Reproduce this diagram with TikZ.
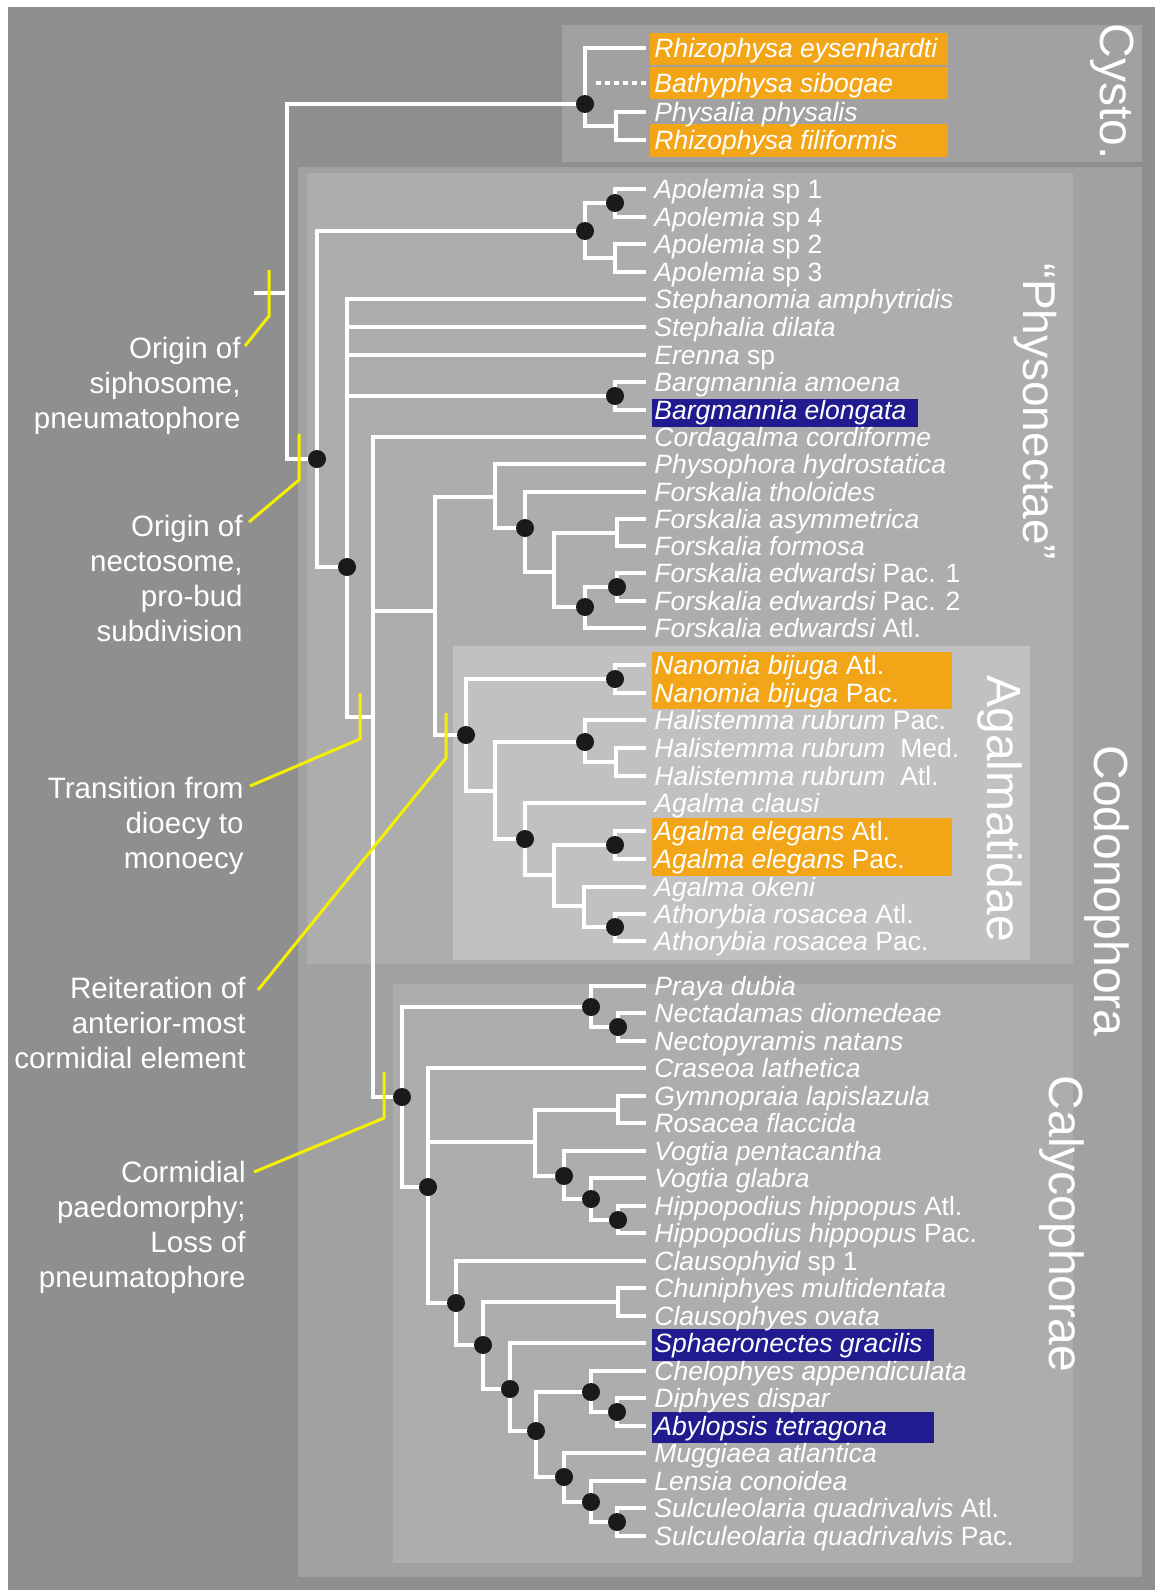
\documentclass[tikz,border=0pt]{standalone}
\usepackage{fontspec}
\setmainfont{Liberation Sans}
\definecolor{bgout}{HTML}{8F8F8F}
\definecolor{boxA}{HTML}{A1A1A1}
\definecolor{boxB}{HTML}{ADADAD}
\definecolor{boxC}{HTML}{C1C1C1}
\definecolor{hlorange}{HTML}{F2A516}
\definecolor{hlblue}{HTML}{201C8F}
\definecolor{dotc}{HTML}{1A1A1A}
\definecolor{yel}{HTML}{F5F000}
\tikzset{
  br/.style={draw=white, line width=2pt, line join=miter},
  brdot/.style={draw=white, line width=2pt, dash pattern=on 2.5pt off 2pt},
  leaf/.style={anchor=west, inner xsep=4pt, inner ysep=0pt, text height=13pt, text depth=3.5pt, text=white, font=\fontsize{13.25pt}{15pt}\selectfont\itshape},
  dotn/.style={circle, fill=dotc, inner sep=0pt, minimum size=9pt},
  yline/.style={draw=yel, line width=1.5pt, line join=miter},
  ann/.style={anchor=base east, inner sep=0pt, text=white, font=\fontsize{14.75pt}{17.5pt}\selectfont},
  grp/.style={rotate=-90, text=white, inner sep=0pt, font=\fontsize{24pt}{28pt}\selectfont}
}
\begin{document}
\begin{tikzpicture}[x=0.5pt,y=-0.5pt]
\useasboundingbox (0,0) rectangle (1155,1590);
% backgrounds
\fill[white] (0,0) rectangle (1155,1590);
\fill[bgout] (8,7) rectangle (1155,1590);
\fill[boxA] (562,25) rectangle (1142,162);
\fill[boxA] (298,167) rectangle (1142,1577);
\fill[boxB] (307,173) rectangle (1073,964);
\fill[boxC] (453,646) rectangle (1030,960);
\fill[boxB] (393,984) rectangle (1073,1563);
% highlights
\fill[hlorange] (650,33) rectangle (948,65);
\fill[hlorange] (650,67) rectangle (948,99);
\fill[hlorange] (650,124) rectangle (948,157);
\fill[hlblue] (652,399) rectangle (918,427);
\fill[hlorange] (652,652) rectangle (952,709);
\fill[hlorange] (652,818) rectangle (952,876);
\fill[hlblue] (652,1329) rectangle (934,1361);
\fill[hlblue] (652,1412) rectangle (934,1443);

% leaves
\node[leaf] (L01) at (646,48) {Rhizophysa eysenhardti};
\node[leaf] (L02) at (646,83) {Bathyphysa sibogae};
\node[leaf] (L03) at (646,112) {Physalia physalis};
\node[leaf] (L04) at (646,140) {Rhizophysa filiformis};
\node[leaf] (a1) at (646,189) {Apolemia {\upshape sp 1}};
\node[leaf] (a2) at (646,217) {Apolemia {\upshape sp 4}};
\node[leaf] (a3) at (646,244) {Apolemia {\upshape sp 2}};
\node[leaf] (a4) at (646,272) {Apolemia {\upshape sp 3}};
\node[leaf] (a5) at (646,299) {Stephanomia amphytridis};
\node[leaf] (a6) at (646,327) {Stephalia dilata};
\node[leaf] (a7) at (646,355) {Erenna {\upshape sp}};
\node[leaf] (a8) at (646,382) {Bargmannia amoena};
\node[leaf] (a9) at (646,410) {Bargmannia elongata};
\node[leaf] (a10) at (646,437) {Cordagalma cordiforme};
\node[leaf] (a11) at (646,464) {Physophora hydrostatica};
\node[leaf] (a12) at (646,492) {Forskalia tholoides};
\node[leaf] (a13) at (646,519) {Forskalia asymmetrica};
\node[leaf] (a14) at (646,546) {Forskalia formosa};
\node[leaf] (a15) at (646,573) {Forskalia edwardsi {\upshape Pac. 1}};
\node[leaf] (a16) at (646,601) {Forskalia edwardsi {\upshape Pac. 2}};
\node[leaf] (a17) at (646,628) {Forskalia edwardsi {\upshape Atl.}};
\node[leaf] (a18) at (646,665) {Nanomia bijuga {\upshape Atl.}};
\node[leaf] (a19) at (646,693) {Nanomia bijuga {\upshape Pac.}};
\node[leaf] (a20) at (646,720) {Halistemma rubrum {\upshape Pac.}};
\node[leaf] (a21) at (646,748) {Halistemma rubrum \ {\upshape Med.}};
\node[leaf] (a22) at (646,776) {Halistemma rubrum \ {\upshape Atl.}};
\node[leaf] (a23) at (646,803) {Agalma clausi};
\node[leaf] (a24) at (646,831) {Agalma elegans {\upshape Atl.}};
\node[leaf] (a25) at (646,859) {Agalma elegans {\upshape Pac.}};
\node[leaf] (a26) at (646,887) {Agalma okeni};
\node[leaf] (a27) at (646,914) {Athorybia rosacea {\upshape Atl.}};
\node[leaf] (a28) at (646,941) {Athorybia rosacea {\upshape Pac.}};
\node[leaf] (a29) at (646,986) {Praya dubia};
\node[leaf] (a30) at (646,1013) {Nectadamas diomedeae};
\node[leaf] (a31) at (646,1041) {Nectopyramis natans};
\node[leaf] (a32) at (646,1068) {Craseoa lathetica};
\node[leaf] (a33) at (646,1096) {Gymnopraia lapislazula};
\node[leaf] (a34) at (646,1123) {Rosacea flaccida};
\node[leaf] (a35) at (646,1151) {Vogtia pentacantha};
\node[leaf] (a36) at (646,1178) {Vogtia glabra};
\node[leaf] (a37) at (646,1206) {Hippopodius hippopus {\upshape Atl.}};
\node[leaf] (a38) at (646,1233) {Hippopodius hippopus {\upshape Pac.}};
\node[leaf] (a39) at (646,1261) {Clausophyid {\upshape sp 1}};
\node[leaf] (a40) at (646,1288) {Chuniphyes multidentata};
\node[leaf] (a41) at (646,1316) {Clausophyes ovata};
\node[leaf] (a42) at (646,1343) {Sphaeronectes gracilis};
\node[leaf] (a43) at (646,1371) {Chelophyes appendiculata};
\node[leaf] (a44) at (646,1398) {Diphyes dispar};
\node[leaf] (a45) at (646,1426) {Abylopsis tetragona};
\node[leaf] (a46) at (646,1453) {Muggiaea atlantica};
\node[leaf] (a47) at (646,1481) {Lensia conoidea};
\node[leaf] (a48) at (646,1508) {Sulculeolaria quadrivalvis {\upshape Atl.}};
\node[leaf] (a49) at (646,1536) {Sulculeolaria quadrivalvis {\upshape Pac.}};

% internal nodes
\coordinate (R) at (287,293);
\coordinate (tick) at (254,293);
\coordinate (c0) at (585,104);
\coordinate (c1) at (616,126);
\coordinate (bd) at (596,83);
\coordinate (r0) at (317,459);
\coordinate (A0) at (585,231);
\coordinate (A1) at (615,203);
\coordinate (A2) at (615,258);
\coordinate (P1) at (347,567);
\coordinate (B0) at (615,396);
\coordinate (P2) at (373,717);
\coordinate (F0) at (435,611);
\coordinate (F1) at (495,497);
\coordinate (F2) at (525,528);
\coordinate (F3) at (554,572);
\coordinate (F4) at (617,533);
\coordinate (F5) at (585,607);
\coordinate (F6) at (617,587);
\coordinate (G0) at (466,735);
\coordinate (Ga) at (615,679);
\coordinate (G1) at (495,791);
\coordinate (G2) at (585,742);
\coordinate (G3) at (616,762);
\coordinate (G4) at (525,839);
\coordinate (G5) at (554,875);
\coordinate (G6) at (615,845);
\coordinate (G7) at (584,906);
\coordinate (G8) at (615,927);
\coordinate (K0) at (402,1097);
\coordinate (K1) at (591,1007);
\coordinate (K2) at (618,1027);
\coordinate (K3) at (428,1187);
\coordinate (K4) at (535,1142);
\coordinate (K5) at (618,1110);
\coordinate (K6) at (564,1176);
\coordinate (K7) at (591,1199);
\coordinate (K8) at (618,1220);
\coordinate (K9) at (456,1303);
\coordinate (K10) at (483,1345);
\coordinate (K11) at (618,1302);
\coordinate (K12) at (510,1389);
\coordinate (K13) at (536,1431);
\coordinate (K14) at (591,1392);
\coordinate (K15) at (617,1412);
\coordinate (K16) at (564,1477);
\coordinate (K17) at (591,1502);
\coordinate (K18) at (617,1522);

% connectors
\draw[br] (R) -- (tick);
\draw[br] (R) |- (c0);
\draw[br] (R) |- (r0);
\draw[br] (c0) |- (L01);
\draw[br] (c0) |- (c1);
\draw[br] (c1) |- (L03);
\draw[br] (c1) |- (L04);
\draw[brdot] (bd) -- (L02);
\draw[br] (r0) |- (A0);
\draw[br] (r0) |- (P1);
\draw[br] (A0) |- (A1);
\draw[br] (A0) |- (A2);
\draw[br] (A1) |- (a1);
\draw[br] (A1) |- (a2);
\draw[br] (A2) |- (a3);
\draw[br] (A2) |- (a4);
\draw[br] (P1) |- (a5);
\draw[br] (P1) |- (a6);
\draw[br] (P1) |- (a7);
\draw[br] (P1) |- (B0);
\draw[br] (P1) |- (P2);
\draw[br] (B0) |- (a8);
\draw[br] (B0) |- (a9);
\draw[br] (P2) |- (a10);
\draw[br] (P2) |- (F0);
\draw[br] (P2) |- (K0);
\draw[br] (F0) |- (F1);
\draw[br] (F0) |- (G0);
\draw[br] (F1) |- (a11);
\draw[br] (F1) |- (F2);
\draw[br] (F2) |- (a12);
\draw[br] (F2) |- (F3);
\draw[br] (F3) |- (F4);
\draw[br] (F3) |- (F5);
\draw[br] (F4) |- (a13);
\draw[br] (F4) |- (a14);
\draw[br] (F5) |- (F6);
\draw[br] (F5) |- (a17);
\draw[br] (F6) |- (a15);
\draw[br] (F6) |- (a16);
\draw[br] (G0) |- (Ga);
\draw[br] (G0) |- (G1);
\draw[br] (Ga) |- (a18);
\draw[br] (Ga) |- (a19);
\draw[br] (G1) |- (G2);
\draw[br] (G1) |- (G4);
\draw[br] (G2) |- (a20);
\draw[br] (G2) |- (G3);
\draw[br] (G3) |- (a21);
\draw[br] (G3) |- (a22);
\draw[br] (G4) |- (a23);
\draw[br] (G4) |- (G5);
\draw[br] (G5) |- (G6);
\draw[br] (G5) |- (G7);
\draw[br] (G6) |- (a24);
\draw[br] (G6) |- (a25);
\draw[br] (G7) |- (a26);
\draw[br] (G7) |- (G8);
\draw[br] (G8) |- (a27);
\draw[br] (G8) |- (a28);
\draw[br] (K0) |- (K1);
\draw[br] (K0) |- (K3);
\draw[br] (K1) |- (a29);
\draw[br] (K1) |- (K2);
\draw[br] (K2) |- (a30);
\draw[br] (K2) |- (a31);
\draw[br] (K3) |- (a32);
\draw[br] (K3) |- (K4);
\draw[br] (K3) |- (K9);
\draw[br] (K4) |- (K5);
\draw[br] (K4) |- (K6);
\draw[br] (K5) |- (a33);
\draw[br] (K5) |- (a34);
\draw[br] (K6) |- (a35);
\draw[br] (K6) |- (K7);
\draw[br] (K7) |- (a36);
\draw[br] (K7) |- (K8);
\draw[br] (K8) |- (a37);
\draw[br] (K8) |- (a38);
\draw[br] (K9) |- (a39);
\draw[br] (K9) |- (K10);
\draw[br] (K10) |- (K11);
\draw[br] (K10) |- (K12);
\draw[br] (K11) |- (a40);
\draw[br] (K11) |- (a41);
\draw[br] (K12) |- (a42);
\draw[br] (K12) |- (K13);
\draw[br] (K13) |- (K14);
\draw[br] (K13) |- (K16);
\draw[br] (K14) |- (a43);
\draw[br] (K14) |- (K15);
\draw[br] (K15) |- (a44);
\draw[br] (K15) |- (a45);
\draw[br] (K16) |- (a46);
\draw[br] (K16) |- (K17);
\draw[br] (K17) |- (a47);
\draw[br] (K17) |- (K18);
\draw[br] (K18) |- (a48);
\draw[br] (K18) |- (a49);

% dots
\foreach \n in {c0,r0,A0,A1,P1,B0,F2,F5,F6,G0,Ga,G2,G4,G6,G8,K0,K1,K2,K3,K6,K7,K8,K9,K10,K12,K13,K14,K15,K16,K17,K18}
  \node[dotn] (d\n) at (\n) {};

% group labels
\node[grp] (gCysto) at (1112,92) {Cysto.};
\node[grp, font=\fontsize{23pt}{27pt}\selectfont] (gPhys) at (1035,412) {“Physonectae”};
\node[grp] (gAgal) at (1000,809) {Agalmatidae};
\node[grp] (gCodo) at (1107,891) {Codonophora};
\node[grp] (gCaly) at (1062,1224) {Calycophorae};

% annotations
\node[ann] (n1a) at (241,358) {Origin of};
\node[ann] (n1b) at (241,393) {siphosome,};
\node[ann] (n1c) at (241,428) {pneumatophore};
\node[ann] (n2a) at (243,536) {Origin of};
\node[ann] (n2b) at (243,571) {nectosome,};
\node[ann] (n2c) at (243,606) {pro-bud};
\node[ann] (n2d) at (243,641) {subdivision};
\node[ann] (n3a) at (244,798) {Transition from};
\node[ann] (n3b) at (244,833) {dioecy to};
\node[ann] (n3c) at (244,868) {monoecy};
\node[ann] (n4a) at (246,998) {Reiteration of};
\node[ann] (n4b) at (246,1033) {anterior-most};
\node[ann] (n4c) at (246,1068) {cormidial element};
\node[ann] (n5a) at (246,1182) {Cormidial};
\node[ann] (n5b) at (246,1217) {paedomorphy;};
\node[ann] (n5c) at (246,1252) {Loss of};
\node[ann] (n5d) at (246,1287) {pneumatophore};

% yellow marks
\coordinate (y1t) at (269,270); \coordinate (y1b) at (269,316); \coordinate (y1e) at (245,346);
\coordinate (y2t) at (299,434); \coordinate (y2b) at (299,480); \coordinate (y2e) at (249,522);
\coordinate (y3t) at (360,693); \coordinate (y3b) at (360,739); \coordinate (y3e) at (250,786);
\coordinate (y4t) at (446,713); \coordinate (y4b) at (446,758); \coordinate (y4e) at (258,990);
\coordinate (y5t) at (384,1072); \coordinate (y5b) at (384,1118); \coordinate (y5e) at (254,1172);
\draw[yline] (y1t) -- (y1b) -- (y1e);
\draw[yline] (y2t) -- (y2b) -- (y2e);
\draw[yline] (y3t) -- (y3b) -- (y3e);
\draw[yline] (y4t) -- (y4b) -- (y4e);
\draw[yline] (y5t) -- (y5b) -- (y5e);
\end{tikzpicture}
\end{document}
